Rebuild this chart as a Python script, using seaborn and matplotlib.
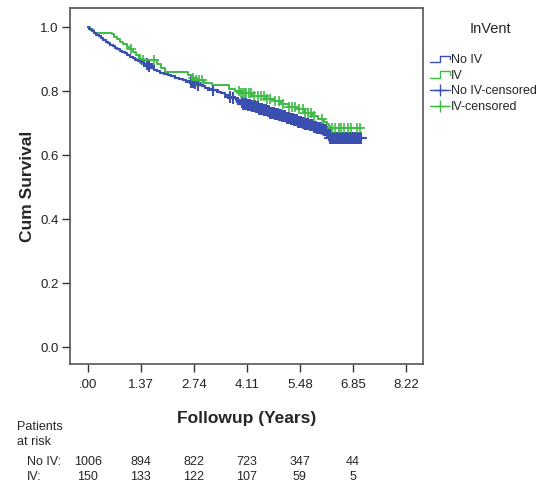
import numpy as np
import pandas as pd
import matplotlib
matplotlib.use("Agg")
import matplotlib.pyplot as plt
import matplotlib.transforms as mtransforms
from matplotlib.lines import Line2D
from matplotlib.legend_handler import HandlerLine2D
import seaborn as sns

sns.set_style("white")
plt.rcParams['font.family'] = ['Liberation Sans', 'DejaVu Sans']

# Kaplan-Meier steps
noiv_t = [0.00, 0.04, 0.10, 0.16, 0.22, 0.28, 0.34, 0.40, 0.46, 0.52, 0.58, 0.64, 0.70,
          0.76, 0.82, 0.88, 0.95, 1.02, 1.09, 1.16, 1.23, 1.30, 1.37, 1.45, 1.53, 1.61,
          1.70, 1.78, 1.87, 1.96, 2.06, 2.16, 2.26, 2.36, 2.46, 2.55, 2.64, 2.74, 2.84,
          2.94, 3.04, 3.14, 3.24, 3.34, 3.44, 3.54, 3.64, 3.74, 3.84, 3.93, 4.02, 4.12,
          4.22, 4.32, 4.42, 4.52, 4.62, 4.72, 4.82, 4.92, 5.02, 5.12, 5.22, 5.32, 5.42,
          5.52, 5.62, 5.72, 5.82, 5.92, 6.02, 6.10, 6.17, 6.21, 6.25, 7.07]
noiv_s = [1.000, 0.995, 0.989, 0.983, 0.977, 0.971, 0.965, 0.960, 0.955, 0.950, 0.945,
          0.940, 0.935, 0.931, 0.927, 0.923, 0.918, 0.913, 0.908, 0.903, 0.898, 0.894,
          0.890, 0.885, 0.879, 0.873, 0.867, 0.862, 0.858, 0.854, 0.850, 0.846, 0.842,
          0.838, 0.834, 0.831, 0.828, 0.824, 0.820, 0.816, 0.811, 0.807, 0.803, 0.798,
          0.793, 0.788, 0.783, 0.778, 0.773, 0.767, 0.761, 0.757, 0.753, 0.749, 0.745,
          0.741, 0.737, 0.733, 0.729, 0.725, 0.721, 0.717, 0.713, 0.709, 0.705, 0.701,
          0.697, 0.693, 0.689, 0.685, 0.681, 0.677, 0.673, 0.662, 0.652, 0.652]
iv_t = [0.00, 0.06, 0.15, 0.62, 0.68, 0.76, 0.84, 0.92, 1.00, 1.08, 1.16, 1.24, 1.32,
        1.38, 1.80, 1.90, 2.00, 2.60, 2.68, 2.80, 3.00, 3.20, 3.65, 3.80, 3.92, 4.25,
        4.60, 4.80, 5.00, 5.20, 5.40, 5.60, 5.80, 5.95, 6.10, 6.17, 6.22, 6.26, 7.03]
iv_s = [1.000, 0.990, 0.983, 0.978, 0.970, 0.962, 0.954, 0.946, 0.939, 0.931, 0.922,
        0.912, 0.902, 0.897, 0.885, 0.872, 0.860, 0.850, 0.842, 0.834, 0.826, 0.819,
        0.808, 0.800, 0.793, 0.786, 0.777, 0.768, 0.760, 0.751, 0.743, 0.733, 0.722,
        0.712, 0.704, 0.698, 0.690, 0.685, 0.685]

# censoring times
noiv_cens = [1.52, 1.58, 2.66, 2.72, 2.78, 2.84, 3.24, 3.68, 3.74, 3.98, 4.02, 4.05,
             4.09, 4.13, 4.16, 4.20, 4.24, 4.27, 4.31, 4.35, 4.39, 4.42, 4.46, 4.50,
             4.54, 4.57, 4.61, 4.65, 4.69, 4.72, 4.76, 4.80, 4.84, 4.87, 4.91, 4.95,
             4.99, 5.02, 5.06, 5.10, 5.14, 5.17, 5.21, 5.25, 5.29, 5.32, 5.36, 5.40,
             5.44, 5.47, 5.51, 5.55, 5.59, 5.62, 5.66, 5.70, 5.74, 5.77, 5.81, 5.85,
             5.89, 5.92, 5.96, 6.00, 6.04, 6.07, 6.11, 6.15, 6.19, 6.23, 6.27, 6.31,
             6.35, 6.39, 6.43, 6.47, 6.51, 6.55, 6.59, 6.63, 6.67, 6.71, 6.75, 6.79,
             6.83, 6.87, 6.91, 6.95, 6.99, 7.03, 7.07]
iv_cens = [1.12, 1.36, 1.42, 1.70, 2.72, 2.80, 2.88, 2.96, 3.90, 3.95, 4.00, 4.05,
           4.10, 4.16, 4.22, 4.30, 4.40, 4.48, 4.56, 4.62, 4.70, 4.85, 4.95, 5.05,
           5.20, 5.28, 5.36, 5.45, 5.55, 5.62, 5.70, 5.78, 5.85, 6.05, 6.30, 6.38,
           6.48, 6.55, 6.62, 6.72, 6.80, 6.95, 7.03]

xticks = [0, 1.37, 2.74, 4.11, 5.48, 6.85, 8.22]
xticklabels = ['.00', '1.37', '2.74', '4.11', '5.48', '6.85', '8.22']
risk_noiv = [1006, 894, 822, 723, 347, 44]
risk_iv = [150, 133, 122, 107, 59, 5]

blue = '#3B4FB0'
green = '#3DBB45'


def surv_at(t, s, times):
    idx = np.searchsorted(t, times, side='right') - 1
    return np.array(s)[idx]


class HandlerStep(HandlerLine2D):
    def create_artists(self, legend, orig_handle, xdescent, ydescent, width, height,
                       fontsize, trans):
        x0, y0 = -xdescent, -ydescent
        xs = [x0, x0 + width * 0.5, x0 + width * 0.5, x0 + width, x0 + width]
        ys = [y0 + height * 0.1, y0 + height * 0.1, y0 + height * 0.85,
              y0 + height * 0.85, y0 + height * 0.45]
        ln = Line2D(xs, ys, color=orig_handle.get_color(), lw=1)
        ln.set_transform(trans)
        return [ln]


fig = plt.figure(figsize=(5.54, 4.91), dpi=100)
ax = fig.add_axes([0.1264, 0.2587, 0.637, 0.725])

df_noiv = pd.DataFrame({'t': noiv_t, 's': noiv_s})
df_iv = pd.DataFrame({'t': iv_t, 's': iv_s})
sns.lineplot(data=df_iv, x='t', y='s', drawstyle='steps-post', color=green, lw=1.4,
             ax=ax, estimator=None, sort=False)
sns.lineplot(data=df_noiv, x='t', y='s', drawstyle='steps-post', color=blue, lw=1.6,
             ax=ax, estimator=None, sort=False)

cn = pd.DataFrame({'t': noiv_cens, 's': surv_at(noiv_t, noiv_s, noiv_cens)})
ci = pd.DataFrame({'t': iv_cens, 's': surv_at(iv_t, iv_s, iv_cens)})
sns.scatterplot(data=cn, x='t', y='s', marker='+', s=80, color=blue, linewidth=1.5, ax=ax)
sns.scatterplot(data=ci, x='t', y='s', marker='+', s=55, color=green, linewidth=1.2, ax=ax)

ax.set_xlim(-0.46, 8.66)
ax.set_ylim(-0.053, 1.06)
ax.set_xticks(xticks)
ax.set_xticklabels(xticklabels)
ax.set_yticks([0, 0.2, 0.4, 0.6, 0.8, 1.0])
ax.set_yticklabels(['0.0', '0.2', '0.4', '0.6', '0.8', '1.0'])
ax.tick_params(axis='both', direction='out', length=6, width=1, colors='#333333',
               labelsize=9.5, labelcolor='#222222', bottom=True, left=True, pad=2)
ax.tick_params(axis='x', pad=5)
for sp in ax.spines.values():
    sp.set_color('#555555')
    sp.set_linewidth(1.2)

ax.set_xlabel('Followup (Years)', fontsize=12.5, fontweight='bold', labelpad=14)
ax.set_ylabel('Cum Survival', fontsize=12.5, fontweight='bold', labelpad=4)

handles = [Line2D([], [], color=blue), Line2D([], [], color=green),
           Line2D([], [], color=blue, marker='+', markersize=9, lw=1),
           Line2D([], [], color=green, marker='+', markersize=9, lw=1)]
labels = ['No IV', 'IV', 'No IV-censored', 'IV-censored']
fig.text(490 / 554, 1 - 29 / 491, 'InVent', fontsize=10.5, ha='center', va='center')
fig.legend(handles, labels, loc='upper left', bbox_to_anchor=(430 / 554, 1 - 54 / 491),
           frameon=False, fontsize=9, borderpad=0, borderaxespad=0,
           handlelength=1.6, handletextpad=0.1, labelspacing=0.3,
           handler_map={handles[0]: HandlerStep(), handles[1]: HandlerStep()})

# numbers at risk table
fig.text(0.031, 1 - 427 / 491, 'Patients', fontsize=9, va='center')
fig.text(0.031, 1 - 442 / 491, 'at risk', fontsize=9, va='center')
fig.text(0.049, 1 - 462 / 491, 'No IV:', fontsize=9, va='center')
fig.text(0.049, 1 - 477 / 491, 'IV:', fontsize=9, va='center')
trans = mtransforms.blended_transform_factory(ax.transData, fig.transFigure)
for x, a, b in zip(xticks, risk_noiv, risk_iv):
    ax.text(x, 1 - 462 / 491, str(a), transform=trans, ha='center', va='center',
            fontsize=9)
    ax.text(x, 1 - 477 / 491, str(b), transform=trans, ha='center', va='center',
            fontsize=9)

fig.savefig('out.png', dpi=100)
